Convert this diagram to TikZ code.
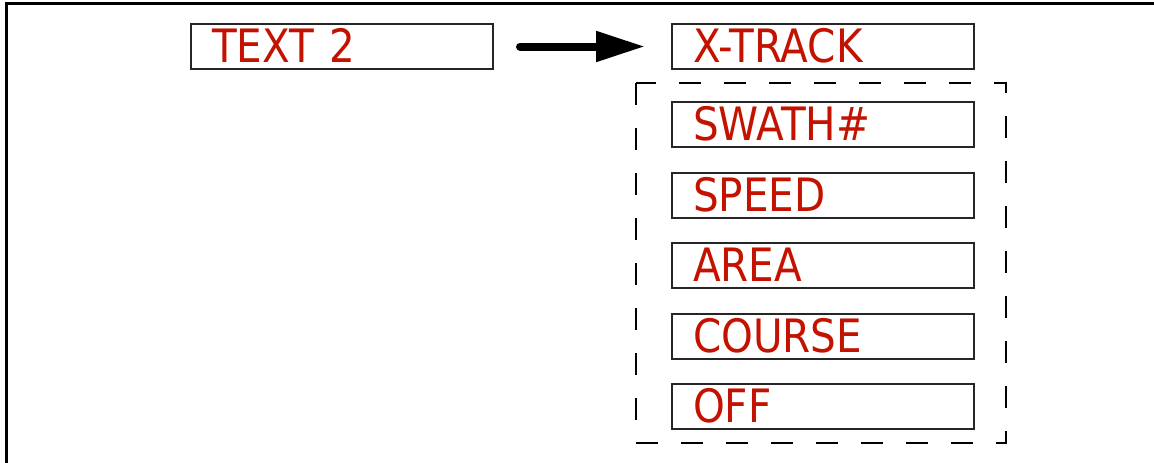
\documentclass[tikz,border=0pt]{standalone}
\usepackage{fontspec}
\setmainfont{DejaVu Sans}
\newfontfamily\menufont[FakeStretch=0.88]{DejaVu Sans}
\usetikzlibrary{arrows.meta}
\definecolor{menured}{RGB}{196,18,0}

\tikzset{
	menubox/.style={draw=black!85,line width=2pt,anchor=north west,
		minimum width=302pt,minimum height=45pt,inner xsep=21pt,
		text width=260pt,align=left,text height=33pt,text depth=2pt,
		text=menured,font=\menufont\fontsize{46}{52}\selectfont}
}

\begin{document}
\begin{tikzpicture}[x=1pt,y=-1pt,>={Triangle[length=49pt,width=29pt]}]
	\useasboundingbox (0,0) rectangle (1154,463);
	
	% Draw the frame (top and left edge only)
	\draw[line width=3pt] (1154,3.5) -- (6,3.5) -- (6,463);
	
	% Draw the source and the target
	\node[menubox] (text2) at (190,23) {TEXT 2};
	\node[menubox] (xtrack) at (671,23) {X-TRACK};
	
	% Draw the arrow
	\draw[line width=8pt,line cap=round,->,shorten <=26pt,shorten >=26pt] (text2) -- (xtrack);
	
	% Draw the list of choices
	\foreach \y/\name/\txt in {101/swath/SWATH\#,172/speed/SPEED,242/area/AREA,313/course/COURSE,383/off/OFF}
		\node[menubox] (\name) at (671,\y) {\txt};
	
	% Draw the dashed group round the list
	\draw[line width=2pt,dash pattern=on 22pt off 23pt] (636,83) rectangle (1006,443);

\end{tikzpicture}
\end{document}
